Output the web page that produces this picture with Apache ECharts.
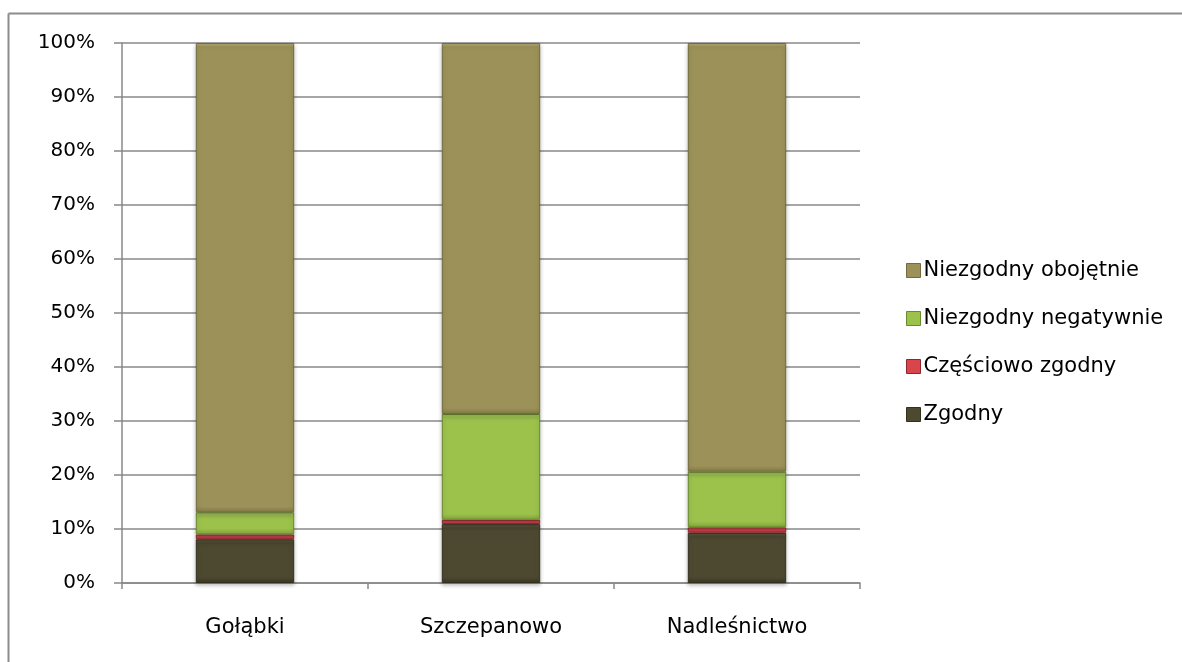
<!DOCTYPE html>
<html>
<head>
<meta charset="utf-8">
<script src="https://cdn.jsdelivr.net/npm/echarts@6/dist/echarts.min.js"></script>
<style>html,body{margin:0;padding:0;background:#fff;}#c{width:1182px;height:662px;}</style>
</head>
<body>
<div id="c"></div>
<script>
const categories = ['Gołąbki', 'Szczepanowo', 'Nadleśnictwo'];
const seriesNames = ['Zgodny', 'Częściowo zgodny', 'Niezgodny negatywnie', 'Niezgodny obojętnie'];
const zgodny = [8.1, 10.9, 9.3];
const czesciowo = [0.9, 0.8, 1.0];
const negatywnie = [4.1, 19.6, 10.3];
const obojetnie = [86.9, 68.7, 79.4];
const yTicks = [0, 10, 20, 30, 40, 50, 60, 70, 80, 90, 100];

const mainColors = ['#4d4931', '#d8454b', '#9cc24c', '#9c9259'];
const topColors = ['#6e694c', '#ee7a80', '#b8db6c', '#b6ac76'];
const bottomColors = ['#3a3723', '#a8333a', '#82a43a', '#847b47'];
const borders = ['#33301e', '#8e262b', '#6a8a2c', '#736b3d'];
const values = [zgodny, czesciowo, negatywnie, obojetnie];
const FONT = 'DejaVu Sans';
const PX_PER_PCT = 5.39;

function fillFor(i, v) {
  const h = Math.max(1, v * PX_PER_PCT);
  const t = Math.min(0.3, 4 / h);
  const b = Math.max(0.6, 1 - 6 / h);
  return new echarts.graphic.LinearGradient(0, 0, 0, 1, [
    {offset: 0, color: topColors[i]},
    {offset: t, color: mainColors[i]},
    {offset: b, color: mainColors[i]},
    {offset: 1, color: bottomColors[i]}
  ]);
}

const chart = echarts.init(document.getElementById('c'), null, {renderer: 'canvas'});
chart.setOption({
  animation: false,
  textStyle: {fontFamily: FONT},
  graphic: [
    {type: 'line', shape: {x1: 8.5, y1: 13.5, x2: 1182, y2: 13.5}, style: {stroke: '#8c8c8c', lineWidth: 2}},
    {type: 'line', shape: {x1: 8.5, y1: 13.5, x2: 8.5, y2: 662}, style: {stroke: '#8c8c8c', lineWidth: 2}}
  ],
  legend: {
    orient: 'vertical',
    left: 901,
    top: 255,
    itemWidth: 14,
    itemHeight: 14,
    itemGap: 27,
    icon: 'rect',
    data: seriesNames.slice().reverse().map((n) => ({
      name: n,
      itemStyle: {color: mainColors[seriesNames.indexOf(n)], borderColor: borders[seriesNames.indexOf(n)], borderWidth: 1}
    })),
    textStyle: {fontSize: 21, color: '#000', fontFamily: FONT, padding: [0, 0, 0, -2]}
  },
  grid: {left: 122, right: 322, top: 43, bottom: 79},
  xAxis: {
    type: 'category',
    data: categories,
    axisLine: {lineStyle: {color: '#888', width: 1.5}},
    axisTick: {show: true, length: 6, lineStyle: {color: '#888', width: 1.5}},
    axisLabel: {fontSize: 21, color: '#000', margin: 34, fontFamily: FONT}
  },
  yAxis: {
    type: 'value',
    min: 0, max: 100, interval: 10,
    axisLine: {show: true, lineStyle: {color: '#888', width: 1.5}},
    axisTick: {show: true, length: 8, lineStyle: {color: '#888', width: 1.5}},
    splitLine: {show: true, lineStyle: {color: '#888', width: 1.5}},
    axisLabel: {fontSize: 20, color: '#000', margin: 27, fontFamily: FONT,
      formatter: v => yTicks.includes(v) ? v + '%' : ''}
  },
  series: seriesNames.map((name, i) => ({
    name: name,
    type: 'bar',
    stack: 'total',
    barWidth: '40%',
    data: values[i].map(v => ({value: v, itemStyle: {color: fillFor(i, v)}})),
    itemStyle: {
      color: mainColors[i],
      borderColor: borders[i],
      borderWidth: 1,
      shadowColor: 'rgba(0,0,0,0.25)',
      shadowBlur: 4,
      shadowOffsetY: 2
    }
  }))
});
</script>
</body>
</html>
